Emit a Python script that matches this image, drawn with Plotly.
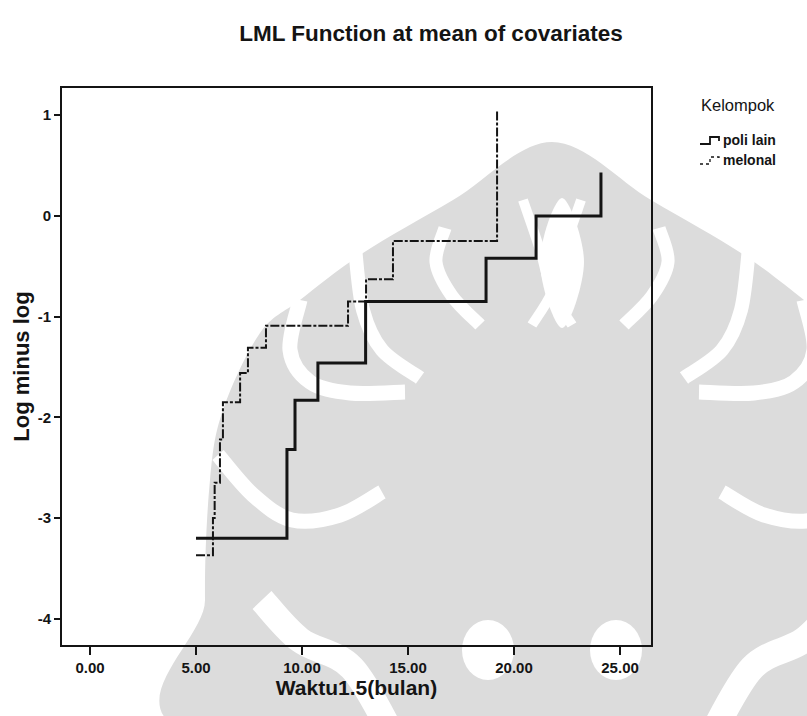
import plotly.graph_objects as go

# Log-minus-log survival estimates per group (time in months)
poli_lain_time = [5.0, 9.29, 9.67, 10.75, 13.0, 18.68, 21.04, 24.1]
poli_lain_lml = [-3.2, -2.32, -1.83, -1.46, -0.85, -0.42, 0.0, 0.43]

melonal_time = [5.0, 5.8, 5.88, 6.13, 6.27, 7.08, 7.45, 8.3, 12.17, 13.02, 14.29, 19.2]
melonal_lml = [-3.37, -3.0, -2.65, -2.22, -1.85, -1.56, -1.31, -1.09, -0.85, -0.63, -0.25, 1.05]

x_ticks = [0, 5, 10, 15, 20, 25]
x_tick_labels = ["0.00", "5.00", "10.00", "15.00", "20.00", "25.00"]
y_ticks = [-4, -3, -2, -1, 0, 1]
y_tick_labels = ["-4", "-3", "-2", "-1", "0", "1"]

group_names = ["poli lain", "melonal"]

W, H = 807, 716
ML, MR, MT, MB = 62, 156, 88, 71
PW, PH = W - ML - MR, H - MT - MB

FONT = "Liberation Sans, Arial, sans-serif"
INK = "#141414"
MARK_GREY = "#dcdcdc"


def px(x, y):
    """Pixel position on the page -> paper coordinates."""
    return (x - ML) / PW, (H - MB - y) / PH


def smooth_path(points, closed=False):
    """Catmull-Rom curve through pixel points, as an SVG path in paper units."""
    pts = list(points)
    if closed:
        ext = [pts[-1]] + pts + [pts[0], pts[1]]
    else:
        ext = [pts[0]] + pts + [pts[-1]]
    p0 = px(*pts[0])
    out = [f"M {p0[0]:.5f},{p0[1]:.5f}"]
    n = len(pts) if closed else len(pts) - 1
    for i in range(n):
        a, b, c, d = ext[i], ext[i + 1], ext[i + 2], ext[i + 3]
        c1 = (b[0] + (c[0] - a[0]) / 6, b[1] + (c[1] - a[1]) / 6)
        c2 = (c[0] - (d[0] - b[0]) / 6, c[1] - (d[1] - b[1]) / 6)
        q1, q2, q3 = px(*c1), px(*c2), px(*c)
        out.append(f"C {q1[0]:.5f},{q1[1]:.5f} {q2[0]:.5f},{q2[1]:.5f} {q3[0]:.5f},{q3[1]:.5f}")
    if closed:
        out.append("Z")
    return " ".join(out)


def mirror(points, cx=552):
    return [(2 * cx - x, y) for x, y in points]


shapes = []

# Faint emblem printed behind the chart
outline = [(212, 740), (205, 600), (210, 480), (223, 410), (260, 333), (300, 300),
           (363, 253), (453, 200), (552, 142)]
envelope = outline + mirror(outline[::-1])[1:]
shapes.append(dict(type="path", xref="paper", yref="paper", layer="below",
                   path=smooth_path(envelope, closed=True),
                   fillcolor=MARK_GREY, line=dict(width=0)))

bands = [
    ([(300, 300), (290, 350), (310, 382), (350, 393), (405, 392)], 15),
    ([(218, 455), (253, 495), (292, 520), (340, 515), (382, 492)], 15),
    ([(355, 248), (363, 310), (382, 350), (420, 378)], 14),
    ([(445, 228), (436, 262), (452, 296), (480, 325)], 13),
    ([(523, 200), (540, 250), (552, 292), (572, 325)], 10),
    ([(262, 600), (300, 640), (352, 668), (395, 740)], 26),
]
for pts, w in bands:
    for side in (pts, mirror(pts)):
        shapes.append(dict(type="path", xref="paper", yref="paper", layer="below",
                           path=smooth_path(side), line=dict(color="white", width=w)))

shapes.append(dict(type="path", xref="paper", yref="paper", layer="below",
                   path=smooth_path([(562, 198), (584, 262), (562, 328), (540, 262)], closed=True),
                   fillcolor="white", line=dict(width=0)))
for cxy in [(488, 650), (616, 650)]:
    a = px(cxy[0] - 26, cxy[1] + 30)
    b = px(cxy[0] + 26, cxy[1] - 30)
    shapes.append(dict(type="circle", xref="paper", yref="paper", layer="below",
                       x0=a[0], y0=a[1], x1=b[0], y1=b[1],
                       fillcolor="white", line=dict(width=0)))

fig = go.Figure()

fig.add_trace(go.Scatter(
    x=poli_lain_time, y=poli_lain_lml, mode="lines", line_shape="hv",
    line=dict(color=INK, width=3), name=group_names[0], showlegend=False,
))
fig.add_trace(go.Scatter(
    x=melonal_time, y=melonal_lml, mode="lines", line_shape="hv",
    line=dict(color=INK, width=2, dash="9px,2px,3px,2px"),
    name=group_names[1], showlegend=False,
))

# Legend drawn by hand with small step-shaped keys
annotations = []
lx0, lx1 = 700, 719
for i, (name, w, dash) in enumerate(zip(group_names, [1.8, 1.3], ["solid", "dot"])):
    yc = 140 + i * 20
    a = px(lx0, yc + 4)
    b = px(lx0 + 10, yc + 4)
    c = px(lx0 + 10, yc - 3)
    d = px(lx1, yc - 3)
    e = px(lx1, yc + 1)
    path = f"M {a[0]},{a[1]} L {b[0]},{b[1]} L {c[0]},{c[1]} L {d[0]},{d[1]} L {e[0]},{e[1]}"
    shapes.append(dict(type="path", xref="paper", yref="paper", path=path,
                       line=dict(color=INK, width=w, dash=dash)))
    tx, ty = px(721, yc)
    annotations.append(dict(x=tx, y=ty, xref="paper", yref="paper", text=name,
                            showarrow=False, xanchor="left", yanchor="middle",
                            font=dict(family=FONT, size=14, color=INK, weight="bold")))

tx, ty = px(699, 105)
annotations.append(dict(x=tx, y=ty, xref="paper", yref="paper", text="Kelompok",
                        showarrow=False, xanchor="left", yanchor="middle",
                        font=dict(family=FONT, size=16.5, color=INK)))

fig.update_layout(
    width=W, height=H,
    margin=dict(l=ML, r=MR, t=MT, b=MB),
    paper_bgcolor="white", plot_bgcolor="rgba(0,0,0,0)",
    title=dict(text="LML Function at mean of covariates",
               x=431 / W, xref="container", xanchor="center",
               y=1 - 33 / H, yref="container", yanchor="middle",
               font=dict(family=FONT, size=22.5, color=INK, weight="bold")),
    shapes=shapes,
    annotations=annotations,
    showlegend=False,
)

axis_common = dict(
    showgrid=False, zeroline=False, showline=True, linewidth=2, linecolor=INK,
    mirror=True, ticks="outside", tickwidth=2, tickcolor=INK,
    tickfont=dict(family=FONT, size=15, color=INK, weight="bold"),
)

fig.update_xaxes(
    range=[-1.32, 26.46], tickvals=x_ticks, ticktext=x_tick_labels, ticklen=8,
    title=dict(text="Waktu1.5(bulan)", standoff=4,
               font=dict(family=FONT, size=21, color=INK, weight="bold")),
    **axis_common,
)
fig.update_yaxes(
    range=[-4.26, 1.27], tickvals=y_ticks, ticktext=y_tick_labels, ticklen=6,
    title=dict(text="Log minus log", standoff=2,
               font=dict(family=FONT, size=22, color=INK, weight="bold")),
    **axis_common,
)

fig.write_html("out.html")
